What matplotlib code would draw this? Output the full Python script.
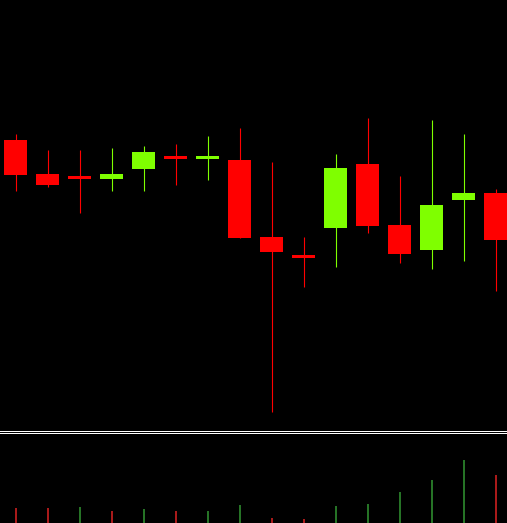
import numpy as np
import matplotlib
matplotlib.use("Agg")
import matplotlib.pyplot as plt
from matplotlib.lines import Line2D

# candle data (price units)
opens = [290, 256, 254, 251, 261, 274, 271, 270, 193, 175, 202, 266, 205, 180, 230, 237]
highs = [296, 280, 280, 282, 284, 286, 294, 302, 268, 193, 276, 312, 254, 310, 296, 241]
lows = [239, 243, 217, 239, 239, 245, 250, 192, 18, 143, 163, 197, 167, 161, 169, 139]
closes = [255, 245, 251, 256, 278, 271, 274, 192, 178, 172, 262, 204, 176, 225, 237, 190]
volumes = [15, 15, 16, 12, 14, 12, 12, 18, 5, 4, 17, 19, 31, 43, 63, 48]
vol_up = [False, False, True, False, True, False, True, True, False, False,
          True, True, True, True, True, False]

UP = '#7fff00'
DOWN = '#ff0000'
VOL_UP = '#2e8b2e'
VOL_DOWN = '#cc2020'

W, H = 507, 523
fig = plt.figure(figsize=(W / 100, H / 100), dpi=100, facecolor='black')

# price panel: top 430 px, volume panel: below the double separator
ax = fig.add_axes([0, 1 - 430 / H, 1, 430 / H], facecolor='black')
axv = fig.add_axes([0, 0, 1, 89 / H], facecolor='black')

x = np.arange(len(opens))
o = np.array(opens)
c = np.array(closes)
up = c >= o
colors = np.where(up, UP, DOWN)

ax.vlines(x, lows, highs, colors=colors, linewidth=0.8)
ax.bar(x, np.where(np.abs(c - o) < 3, 3, c - o), bottom=o, width=0.72,
       color=colors, linewidth=0)

xlim = (-15.5 / 32, (W - 15.5) / 32)
ax.set_xlim(*xlim)
ax.set_ylim(0, 430)
ax.axis('off')

vcolors = [VOL_UP if u else VOL_DOWN for u in vol_up]
axv.vlines(x, 0, volumes, colors=vcolors, linewidth=1.2)
axv.set_xlim(*xlim)
axv.set_ylim(0, 89)
axv.axis('off')

# double white separator line between the panels
for ypx in (430.5, 432.5):
    fig.add_artist(Line2D([0, 1], [1 - ypx / H] * 2, color='white', linewidth=0.72,
                          antialiased=False, transform=fig.transFigure))

fig.savefig('out.png', dpi=100, facecolor='black')
